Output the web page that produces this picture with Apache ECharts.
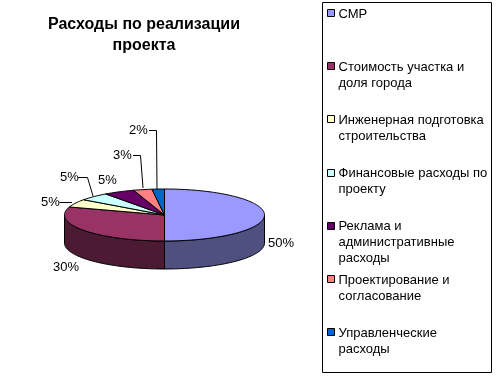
<!DOCTYPE html>
<html>
<head>
<meta charset="utf-8">
<style>html,body{margin:0;padding:0;background:#fff}#chart{width:501px;height:380px}</style>
<script src="https://cdn.jsdelivr.net/npm/echarts@6/dist/echarts.min.js"></script>
</head>
<body>
<div id="chart"></div>
<script>
// Данные диаграммы
const categories = ['СМР', 'Стоимость участка и\nдоля города', 'Инженерная подготовка\nстроительства',
    'Финансовые расходы по\nпроекту', 'Реклама и\nадминистративные\nрасходы', 'Проектирование и\nсогласование',
    'Управленческие\nрасходы'];
const values = [50, 30, 5, 5, 5, 3, 2];
const colors = ['#9999FF', '#993366', '#FFFFCC', '#CCFFFF', '#660066', '#FF8080', '#0066CC'];
const sideColors = ['#4F4F80', '#4C1A33', '#80806A', '#6A8080', '#330033', '#804040', '#003366'];

// Подписи: положение текста и ломаная линия-выноска
const labelPos = [[268, 243], [53, 267], [41, 202], [60, 177], [98, 180], [113, 155], [129, 130]];
const leaders = [null, null, [[59.5, 202.5], [72, 202.5]], [[78, 177.5], [87.5, 177.5], [93, 196]], null,
    [[133, 155.5], [140.5, 155.5], [143, 188]], [[149, 130.5], [156.5, 130.5], [157, 189]]];

// Геометрия "объёмного" круга
const cx = 164.5, cy = 215, rx = 100, ry = 26, depth = 28;
const total = values.reduce((a, b) => a + b, 0);
const font = 'Liberation Sans, Arial, sans-serif';

function pt(angle, dy) {
    return [cx + rx * Math.sin(angle), cy + dy - ry * Math.cos(angle)];
}

function arc(a0, a1, dy) {
    const pts = [];
    const n = Math.max(2, Math.ceil((a1 - a0) * 40));
    for (let i = 0; i <= n; i++) {
        pts.push(pt(a0 + (a1 - a0) * i / n, dy));
    }
    return pts;
}

const line = { stroke: '#000', lineWidth: 1 };

function renderItem(params, api) {
    const i = params.dataIndex;
    let before = 0;
    for (let k = 0; k < i; k++) before += values[k];
    const a0 = before / total * Math.PI * 2;
    const a1 = (before + api.value(0)) / total * Math.PI * 2;
    const children = [];

    // боковая стенка: видна только передняя половина
    const s0 = Math.max(a0, Math.PI / 2), s1 = Math.min(a1, Math.PI * 1.5);
    if (s1 > s0) {
        children.push({
            type: 'polygon',
            shape: { points: arc(s0, s1, 0).concat(arc(s0, s1, depth).reverse()) },
            style: Object.assign({ fill: sideColors[i] }, line)
        });
    }
    // верхняя грань
    children.push({
        type: 'polygon',
        shape: { points: [[cx, cy]].concat(arc(a0, a1, 0)) },
        style: Object.assign({ fill: colors[i] }, line)
    });
    if (leaders[i]) {
        children.push({
            type: 'polyline',
            shape: { points: leaders[i] },
            style: { stroke: '#000', lineWidth: 1, fill: null }
        });
    }
    children.push({
        type: 'text',
        style: {
            x: labelPos[i][0], y: labelPos[i][1], text: api.value(0) + '%',
            font: '13px ' + font, fill: '#000', verticalAlign: 'middle'
        }
    });
    return { type: 'group', children: children };
}

// Легенда в рамке: шаг строк постоянный, поэтому рисуем её сами
const legendItems = [{
    type: 'rect',
    shape: { x: 322.5, y: 2.5, width: 169, height: 370 },
    style: { fill: '#fff', stroke: '#000', lineWidth: 1 }
}];
categories.forEach(function (name, i) {
    const y = 13 + i * 53.2;
    legendItems.push({
        type: 'rect',
        shape: { x: 327.5, y: Math.round(y) - 3.5, width: 7, height: 7 },
        style: { fill: colors[i], stroke: '#000', lineWidth: 1 }
    });
    legendItems.push({
        type: 'text',
        x: 338.5, y: y - 7,
        style: { text: name, font: '13px ' + font, fill: '#000', lineHeight: 16, letterSpacing: 0.4 }
    });
});

const myChart = echarts.init(document.getElementById('chart'));

const option = {
    animation: false,
    backgroundColor: '#fff',
    title: {
        text: 'Расходы по реализации\nпроекта',
        left: 139,
        top: 9,
        textAlign: 'center',
        textStyle: { fontFamily: font, fontSize: 16, fontWeight: 'bold', color: '#000', lineHeight: 21 }
    },
    graphic: legendItems,
    series: [
        {
            type: 'custom',
            coordinateSystem: 'none',
            renderItem: renderItem,
            data: values.map(function (v, i) { return { name: categories[i], value: [v] }; })
        }
    ]
};

myChart.setOption(option);
</script>
</body>
</html>
